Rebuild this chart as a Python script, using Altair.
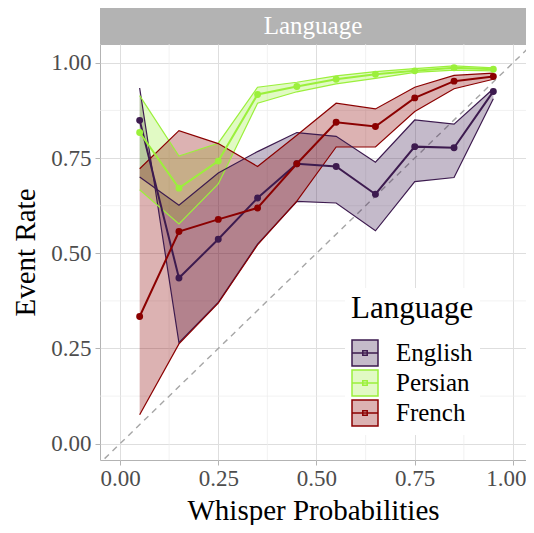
import altair as alt
import pandas as pd

# ---------------- data ----------------
probs = [0.05, 0.15, 0.25, 0.35, 0.45, 0.55, 0.65, 0.75, 0.85, 0.95]
languages = ["English", "Persian", "French"]

english_rate = [0.849, 0.435, 0.537, 0.645, 0.735, 0.728, 0.655, 0.780, 0.777, 0.925]
english_lo = [0.934, 0.265, 0.371, 0.524, 0.636, 0.632, 0.559, 0.688, 0.699, 0.906]
english_hi = [0.700, 0.626, 0.711, 0.767, 0.817, 0.807, 0.739, 0.850, 0.839, 0.932]

persian_rate = [0.817, 0.671, 0.742, 0.917, 0.938, 0.957, 0.970, 0.979, 0.987, 0.983]
persian_lo = [0.667, 0.577, 0.682, 0.894, 0.924, 0.945, 0.959, 0.975, 0.981, 0.979]
persian_hi = [0.914, 0.755, 0.789, 0.936, 0.949, 0.966, 0.977, 0.985, 0.992, 0.987]

french_rate = [0.334, 0.557, 0.589, 0.619, 0.735, 0.844, 0.833, 0.908, 0.952, 0.964]
french_lo = [0.076, 0.262, 0.369, 0.522, 0.637, 0.779, 0.779, 0.872, 0.932, 0.957]
french_hi = [0.722, 0.822, 0.788, 0.728, 0.810, 0.894, 0.879, 0.936, 0.967, 0.973]

major_ticks = [0.0, 0.25, 0.5, 0.75, 1.0]
minor_ticks = [0.125, 0.375, 0.625, 0.875]
diag_ends = [-0.2, 1.2]

# ---------------- styling ----------------
line_colors = ["#3d1b4f", "#9bf03b", "#8b0000"]
ALPHA = 0.3


def blend(hex_color, a=ALPHA):
    h = hex_color.lstrip("#")
    r, g, b = (int(h[i:i + 2], 16) for i in (0, 2, 4))
    mix = [round(255 - a * (255 - c)) for c in (r, g, b)]
    return "#%02x%02x%02x" % tuple(mix)


fill_colors = [blend(c) for c in line_colors]
FONT = "Liberation Serif"
W, H = 426, 416

series = {
    "English": (english_rate, english_lo, english_hi),
    "Persian": (persian_rate, persian_lo, persian_hi),
    "French": (french_rate, french_lo, french_hi),
}
rows = []
for lang in languages:
    rate, lo, hi = series[lang]
    for p, r, l, h in zip(probs, rate, lo, hi):
        rows.append({"prob": p, "rate": r, "lo": l, "hi": h, "lang": lang})
df = pd.DataFrame(rows)

minor_df = pd.DataFrame({"v": minor_ticks})
diag_df = pd.DataFrame({"d": diag_ends})

x_scale = alt.Scale(domain=[-0.0509, 1.0331], nice=False, zero=False)
y_scale = alt.Scale(domain=[-0.0428, 1.0495], nice=False, zero=False)
# colour scale for the data marks (domain listed in reverse so that its hidden
# legend is not merged with the visible fill/stroke legend)
color_scale = alt.Scale(domain=languages[::-1], range=line_colors[::-1])

x_axis = alt.Axis(values=major_ticks, format=".2f", title="Whisper Probabilities",
                  titleBaseline="alphabetic", titleY=59, labelPadding=2,
                  labelFlush=15, labelFlushOffset=13)
y_axis = alt.Axis(values=major_ticks, format=".2f", title="Event Rate",
                  titleBaseline="alphabetic", titleX=-66, labelPadding=4)


def X(field):
    return alt.X(field, type="quantitative", scale=x_scale, axis=x_axis)


def Y(field):
    return alt.Y(field, type="quantitative", scale=y_scale, axis=y_axis)


color_enc = alt.Color("lang:N", scale=color_scale, legend=None)

minor_x = alt.Chart(minor_df).mark_rule(color="#ececec", strokeWidth=0.7).encode(x=X("v"))
minor_y = alt.Chart(minor_df).mark_rule(color="#ececec", strokeWidth=0.7).encode(y=Y("v"))

diag = alt.Chart(diag_df).mark_line(clip=True, color="#a6a6a6", strokeWidth=1.4,
                                     strokeDash=[6, 5]).encode(x=X("d"), y=Y("d"))

base = alt.Chart(df)
ribbon = base.mark_area(opacity=ALPHA).encode(
    x=X("prob"), y=Y("lo"), y2="hi:Q", color=color_enc, detail="lang:N")
lo_line = base.mark_line(strokeWidth=1.2).encode(x=X("prob"), y=Y("lo"), color=color_enc)
hi_line = base.mark_line(strokeWidth=1.2).encode(x=X("prob"), y=Y("hi"), color=color_enc)
main_line = base.mark_line(strokeWidth=2).encode(x=X("prob"), y=Y("rate"), color=color_enc)
pts = base.mark_circle(size=48, opacity=1).encode(x=X("prob"), y=Y("rate"), color=color_enc)

sym_path = "M-1,-1H1V1H-1Z M-1,0H1 M-0.17,-0.17H0.17V0.17H-0.17Z"
leg = alt.Legend(title="Language", orient="none", legendX=245, legendY=244,
                 symbolType=sym_path, symbolSize=676, symbolStrokeWidth=1.5)
legend_layer = base.mark_point(filled=True, opacity=0).encode(
    x=X("prob"), y=Y("rate"),
    fill=alt.Fill("lang:N", scale=alt.Scale(domain=languages, range=fill_colors), legend=leg),
    stroke=alt.Stroke("lang:N", scale=alt.Scale(domain=languages, range=line_colors), legend=leg))

strip_df = pd.DataFrame({"label": ["Language"]})
strip = alt.Chart(strip_df).mark_rect(color="#b3b3b3").encode(
    x=alt.value(0), x2=alt.value(W), y=alt.value(-36), y2=alt.value(0))
strip_text = alt.Chart(strip_df).mark_text(color="white", fontSize=25, font=FONT,
                                          baseline="middle", align="center").encode(
    x=alt.value(W / 2), y=alt.value(-18), text="label:N")

chart = alt.layer(
    minor_x, minor_y, diag, ribbon, lo_line, hi_line, main_line, pts,
    legend_layer, strip, strip_text
).properties(
    width=W, height=H,
    autosize=alt.AutoSizeParams(type="none"),
    padding={"left": 92, "top": 36, "right": 0, "bottom": 65},
).configure(font=FONT).configure_view(
    stroke="#b3b3b3", strokeWidth=1
).configure_axis(
    domain=False, grid=True, gridColor="#dedede", gridWidth=1,
    tickColor="#b3b3b3", tickSize=5, tickWidth=1,
    labelFont=FONT, labelFontSize=23, labelColor="#4d4d4d",
    titleFont=FONT, titleFontSize=29, titleColor="#000000", titleFontWeight="normal",
).configure_legend(
    titleFont=FONT, titleFontSize=31, titleFontWeight="normal", titleColor="#000000",
    labelFont=FONT, labelFontSize=25, labelColor="#000000", labelOffset=17,
    titlePadding=14, rowPadding=-4.5, padding=6, fillColor="white", symbolOpacity=1,
)

chart.save("out.html", embed_options={"renderer": "svg", "actions": False})
